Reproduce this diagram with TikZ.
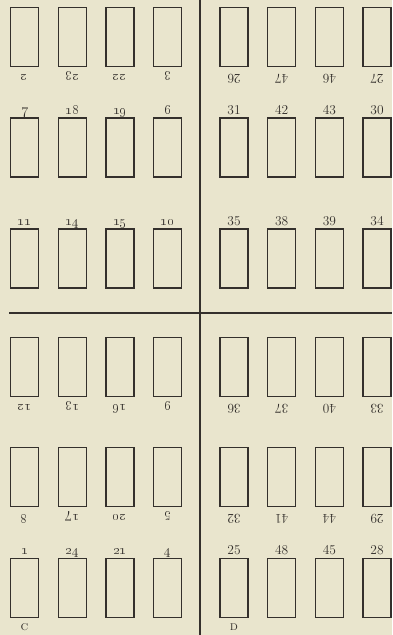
\documentclass[tikz,border=0pt]{standalone}
\usepackage{tikz}
\usetikzlibrary{positioning}
\definecolor{paper}{RGB}{233,229,205}
\definecolor{ink}{RGB}{52,48,44}
\tikzstyle{page} = [rectangle, draw=ink, line width=1.3pt, minimum width=28pt, minimum height=59pt, inner sep=0pt]
\tikzstyle{folio} = [inner sep=0pt, text=ink, font=\fontsize{13.5}{15}\selectfont, anchor=base]
\tikzstyle{flipped} = [folio, rotate=180]
\tikzstyle{sheetname} = [inner sep=0pt, text=ink, font=\fontsize{13}{14}\selectfont]
\tikzstyle{fold} = [draw=ink, line width=2pt]
\newcommand{\folionum}[2]{\ifnum#1<5\relax{\fontsize{15.5}{17}\selectfont\oldstylenums{#2}}\else#2\fi}

\begin{document}
\begin{tikzpicture}[x=1pt, y=-1pt]
  \fill[paper] (0,0) rectangle (392,635);
  \useasboundingbox (0,0) rectangle (392,635);

  % rows whose folios stand upside down under the pages
  \foreach \r/\y/\nums in {1/37/{2,23,22,3,26,47,46,27},
                           4/367/{12,13,16,9,36,37,40,33},
                           5/477/{8,17,20,5,32,41,44,29}}{
    \foreach \k [count=\i] in \nums {
      \pgfmathsetmacro\x{24.5+47.7*mod(\i-1,4)+(\i>4)*209.5}
      \node (box-\r-\i) [page] at (\x,\y) {};
      \node (lbl-\r-\i) [flipped] at ([yshift=-7pt]box-\r-\i.south) {\folionum{\i}{\k}};
    }
  }

  % rows whose folios stand upright over the pages
  \foreach \r/\y/\nums in {2/147.5/{7,18,19,6,31,42,43,30},
                           3/258.5/{11,14,15,10,35,38,39,34},
                           6/588/{1,24,21,4,25,48,45,28}}{
    \foreach \k [count=\i] in \nums {
      \pgfmathsetmacro\x{24.5+47.7*mod(\i-1,4)+(\i>4)*209.5}
      \node (box-\r-\i) [page] at (\x,\y) {};
      \node (lbl-\r-\i) [folio] at ([yshift=3pt]box-\r-\i.north) {\folionum{\i}{\k}};
    }
  }

  \node (sheet-c) [sheetname, below=5pt of box-6-1] {\textsc{c}};
  \node (sheet-d) [sheetname, below=5pt of box-6-5] {\textsc{d}};

  % folds
  \draw[fold] (200,0) -- (200,635);
  \draw[fold] (9,313) -- (392,313);
\end{tikzpicture}
\end{document}
